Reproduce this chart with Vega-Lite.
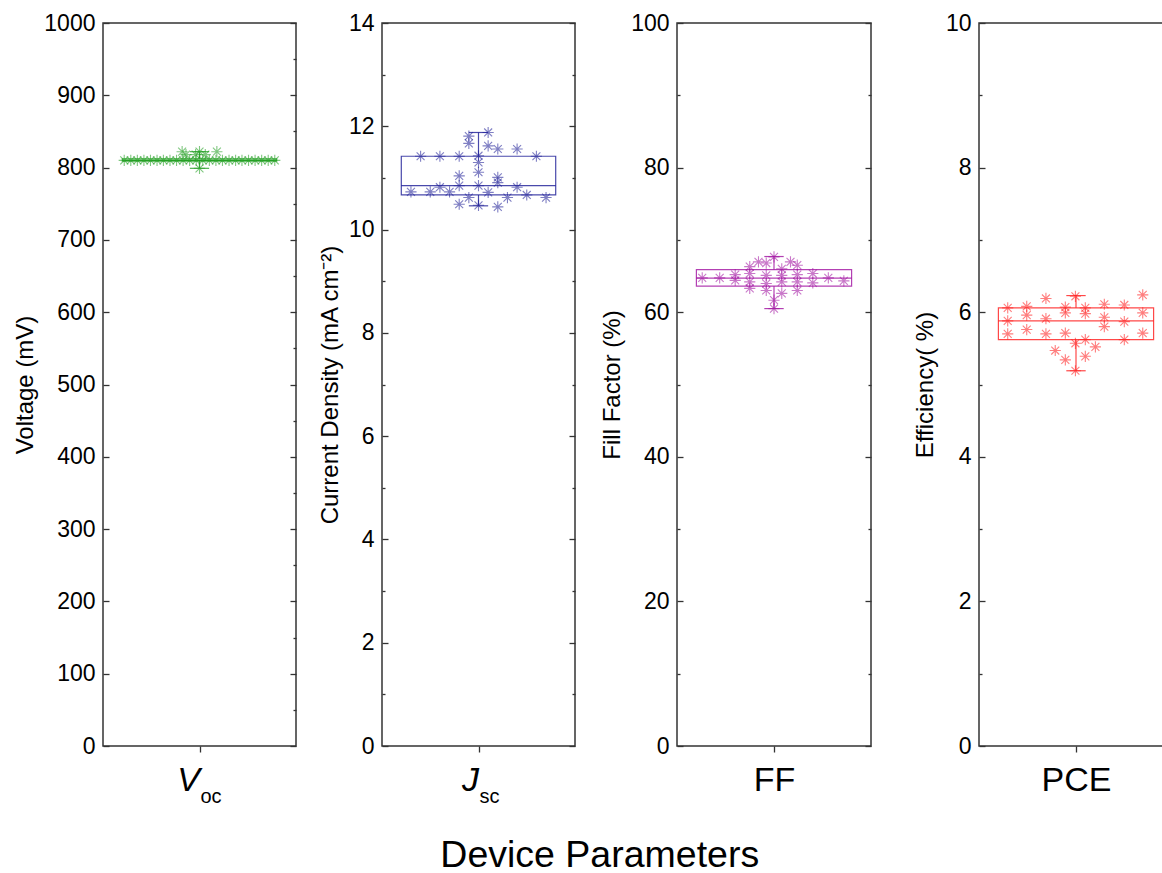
{
  "$schema": "https://vega.github.io/schema/vega-lite/v6.json",
  "padding": {"left": 13, "top": 11, "right": 0, "bottom": 2},
  "spacing": 19,
  "resolve": {"scale": {"x": "independent", "y": "independent"}},
  "title": {"text": "Device Parameters", "orient": "bottom", "anchor": "middle", "fontSize": 37.5, "fontWeight": "normal", "font": "Liberation Sans", "color": "#000", "offset": 30, "dx": 6},
  "hconcat": [
    {
      "width": 193, "height": 723,
      "resolve": {"scale": {"y": "independent"}, "axis": {"y": "independent"}},
      "layer": [
        {
          "data": {"values": [{"q1": 809, "med": 810, "q3": 812, "lo": 799, "hi": 822}]},
          "layer": [
            {"mark": {"type": "rect", "fill": "transparent", "stroke": "#1e9e1e", "strokeWidth": 1.2, "strokeOpacity": 0.8},
             "encoding": {"x": {"datum": 0.1, "type": "quantitative", "scale": {"domain": [0, 1]}}, "x2": {"datum": 0.9},
                          "y": {"field": "q1", "type": "quantitative", "scale": {"domain": [0, 1000]},
                                "axis": {"orient": "left", "values": [0,50,100,150,200,250,300,350,400,450,500,550,600,650,700,750,800,850,900,950,1000], "format": "d",
                                         "labelExpr": "datum.value % 100 === 0 ? datum.label : ''",
                                         "tickSize": {"condition": {"test": "datum.value % 100 === 0", "value": -6}, "value": -3},
                                         "labelFontSize": 23, "labelPadding": 14, "title": "Voltage (mV)", "titleFontSize": 24, "titlePadding": 6}},
                          "y2": {"field": "q3"}}},
            {"mark": {"type": "rule", "stroke": "#1e9e1e", "strokeWidth": 1.2, "strokeOpacity": 0.8},
             "encoding": {"x": {"datum": 0.1, "type": "quantitative"}, "x2": {"datum": 0.9}, "y": {"field": "med", "type": "quantitative"}}},
            {"mark": {"type": "rule", "stroke": "#1e9e1e", "strokeWidth": 1.2, "strokeOpacity": 0.8},
             "encoding": {"x": {"datum": 0.5, "type": "quantitative"}, "y": {"field": "q3", "type": "quantitative"}, "y2": {"field": "hi"}}},
            {"mark": {"type": "rule", "stroke": "#1e9e1e", "strokeWidth": 1.2, "strokeOpacity": 0.8},
             "encoding": {"x": {"datum": 0.5, "type": "quantitative"}, "y": {"field": "lo", "type": "quantitative"}, "y2": {"field": "q1"}}},
            {"mark": {"type": "rule", "stroke": "#1e9e1e", "strokeWidth": 1.2, "strokeOpacity": 0.8},
             "encoding": {"x": {"datum": 0.45, "type": "quantitative"}, "x2": {"datum": 0.55}, "y": {"field": "hi", "type": "quantitative"}}},
            {"mark": {"type": "rule", "stroke": "#1e9e1e", "strokeWidth": 1.2, "strokeOpacity": 0.8},
             "encoding": {"x": {"datum": 0.45, "type": "quantitative"}, "x2": {"datum": 0.55}, "y": {"field": "lo", "type": "quantitative"}}}
          ]
        },
        {
          "data": {"values": [
            {"xd": 0.11, "v": 810}, {"xd": 0.144, "v": 810}, {"xd": 0.178, "v": 810}, {"xd": 0.212, "v": 810}, {"xd": 0.246, "v": 810}, {"xd": 0.28, "v": 810},
            {"xd": 0.313, "v": 810}, {"xd": 0.347, "v": 810}, {"xd": 0.381, "v": 810}, {"xd": 0.415, "v": 810}, {"xd": 0.449, "v": 810}, {"xd": 0.483, "v": 810},
            {"xd": 0.517, "v": 810}, {"xd": 0.551, "v": 810}, {"xd": 0.585, "v": 810}, {"xd": 0.619, "v": 810}, {"xd": 0.653, "v": 810}, {"xd": 0.687, "v": 810},
            {"xd": 0.72, "v": 810}, {"xd": 0.754, "v": 810}, {"xd": 0.788, "v": 810}, {"xd": 0.822, "v": 810}, {"xd": 0.856, "v": 810}, {"xd": 0.89, "v": 810},
            {"xd": 0.43, "v": 818}, {"xd": 0.48, "v": 818}, {"xd": 0.53, "v": 818}, {"xd": 0.41, "v": 822}, {"xd": 0.5, "v": 822}, {"xd": 0.59, "v": 822},
            {"xd": 0.5, "v": 799}
          ]},
          "mark": {"type": "point", "shape": "M-1,0L1,0M0,-1L0,1M-0.71,-0.71L0.71,0.71M-0.71,0.71L0.71,-0.71", "filled": false, "size": 125, "strokeWidth": 1.1, "strokeOpacity": 0.8, "color": "#1e9e1e"},
          "encoding": {
            "x": {"field": "xd", "type": "quantitative", "scale": {"domain": [0, 1]},
                  "axis": {"orient": "bottom", "values": [0.5], "labelExpr": "'V'", "labelFontStyle": "italic", "labelFontSize": 34, "labelAlign": "right", "labelBaseline": "alphabetic", "labelPadding": 38, "tickSize": 6,
                           "title": "oc", "titleFontSize": 20, "titleX": 97, "titleY": 56, "titleAlign": "left", "titleBaseline": "alphabetic"}},
            "y": {"field": "v", "type": "quantitative", "scale": {"domain": [0, 1000]},
                  "axis": {"orient": "right", "values": [0,50,100,150,200,250,300,350,400,450,500,550,600,650,700,750,800,850,900,950,1000], "labels": false, "title": null,
                           "tickSize": {"condition": {"test": "datum.value % 100 === 0", "value": -6}, "value": -3}}}
          }
        }
      ]
    },
    {
      "width": 193, "height": 723,
      "resolve": {"scale": {"y": "independent"}, "axis": {"y": "independent"}},
      "layer": [
        {
          "data": {"values": [{"q1": 10.67, "med": 10.85, "q3": 11.42, "lo": 10.46, "hi": 11.88}]},
          "layer": [
            {"mark": {"type": "rect", "fill": "transparent", "stroke": "#1c1c96", "strokeWidth": 1.2, "strokeOpacity": 0.8},
             "encoding": {"x": {"datum": 0.1, "type": "quantitative", "scale": {"domain": [0, 1]}}, "x2": {"datum": 0.9},
                          "y": {"field": "q1", "type": "quantitative", "scale": {"domain": [0, 14]},
                                "axis": {"orient": "left", "values": [0,1,2,3,4,5,6,7,8,9,10,11,12,13,14], "format": "d",
                                         "labelExpr": "datum.value % 2 === 0 ? datum.label : ''",
                                         "tickSize": {"condition": {"test": "datum.value % 2 === 0", "value": -6}, "value": -3},
                                         "labelFontSize": 23, "labelPadding": 14, "title": "Current Density (mA cm⁻²)", "titleFontSize": 24, "titlePadding": 6}},
                          "y2": {"field": "q3"}}},
            {"mark": {"type": "rule", "stroke": "#1c1c96", "strokeWidth": 1.2, "strokeOpacity": 0.8},
             "encoding": {"x": {"datum": 0.1, "type": "quantitative"}, "x2": {"datum": 0.9}, "y": {"field": "med", "type": "quantitative"}}},
            {"mark": {"type": "rule", "stroke": "#1c1c96", "strokeWidth": 1.2, "strokeOpacity": 0.8},
             "encoding": {"x": {"datum": 0.5, "type": "quantitative"}, "y": {"field": "q3", "type": "quantitative"}, "y2": {"field": "hi"}}},
            {"mark": {"type": "rule", "stroke": "#1c1c96", "strokeWidth": 1.2, "strokeOpacity": 0.8},
             "encoding": {"x": {"datum": 0.5, "type": "quantitative"}, "y": {"field": "lo", "type": "quantitative"}, "y2": {"field": "q1"}}},
            {"mark": {"type": "rule", "stroke": "#1c1c96", "strokeWidth": 1.2, "strokeOpacity": 0.8},
             "encoding": {"x": {"datum": 0.45, "type": "quantitative"}, "x2": {"datum": 0.55}, "y": {"field": "hi", "type": "quantitative"}}},
            {"mark": {"type": "rule", "stroke": "#1c1c96", "strokeWidth": 1.2, "strokeOpacity": 0.8},
             "encoding": {"x": {"datum": 0.45, "type": "quantitative"}, "x2": {"datum": 0.55}, "y": {"field": "lo", "type": "quantitative"}}}
          ]
        },
        {
          "data": {"values": [
            {"xd": 0.45, "v": 11.81}, {"xd": 0.45, "v": 11.67}, {"xd": 0.55, "v": 11.88}, {"xd": 0.55, "v": 11.62}, {"xd": 0.6, "v": 11.56}, {"xd": 0.7, "v": 11.56},
            {"xd": 0.8, "v": 11.42}, {"xd": 0.2, "v": 11.42}, {"xd": 0.3, "v": 11.42}, {"xd": 0.4, "v": 11.42}, {"xd": 0.5, "v": 11.43}, {"xd": 0.5, "v": 11.3},
            {"xd": 0.5, "v": 11.11}, {"xd": 0.4, "v": 11.04}, {"xd": 0.4, "v": 10.85}, {"xd": 0.5, "v": 10.85}, {"xd": 0.6, "v": 11.01}, {"xd": 0.6, "v": 10.91},
            {"xd": 0.7, "v": 10.82}, {"xd": 0.15, "v": 10.73}, {"xd": 0.25, "v": 10.73}, {"xd": 0.3, "v": 10.82}, {"xd": 0.35, "v": 10.73}, {"xd": 0.55, "v": 10.72},
            {"xd": 0.45, "v": 10.62}, {"xd": 0.65, "v": 10.62}, {"xd": 0.75, "v": 10.67}, {"xd": 0.85, "v": 10.62}, {"xd": 0.4, "v": 10.49}, {"xd": 0.5, "v": 10.47},
            {"xd": 0.6, "v": 10.44}
          ]},
          "mark": {"type": "point", "shape": "M-1,0L1,0M0,-1L0,1M-0.71,-0.71L0.71,0.71M-0.71,0.71L0.71,-0.71", "filled": false, "size": 125, "strokeWidth": 1.1, "strokeOpacity": 0.8, "color": "#1c1c96"},
          "encoding": {
            "x": {"field": "xd", "type": "quantitative", "scale": {"domain": [0, 1]},
                  "axis": {"orient": "bottom", "values": [0.5], "labelExpr": "'J'", "labelFontStyle": "italic", "labelFontSize": 34, "labelAlign": "right", "labelBaseline": "alphabetic", "labelPadding": 38, "tickSize": 6,
                           "title": "sc", "titleFontSize": 20, "titleX": 97, "titleY": 56, "titleAlign": "left", "titleBaseline": "alphabetic"}},
            "y": {"field": "v", "type": "quantitative", "scale": {"domain": [0, 14]},
                  "axis": {"orient": "right", "values": [0,1,2,3,4,5,6,7,8,9,10,11,12,13,14], "labels": false, "title": " ", "titleFontSize": 2, "titlePadding": 1,
                           "tickSize": {"condition": {"test": "datum.value % 2 === 0", "value": -6}, "value": -3}}}
          }
        }
      ]
    },
    {
      "width": 194, "height": 723,
      "resolve": {"scale": {"y": "independent"}, "axis": {"y": "independent"}},
      "layer": [
        {
          "data": {"values": [{"q1": 63.6, "med": 64.7, "q3": 65.9, "lo": 60.5, "hi": 67.7}]},
          "layer": [
            {"mark": {"type": "rect", "fill": "transparent", "stroke": "#a010a0", "strokeWidth": 1.2, "strokeOpacity": 0.8},
             "encoding": {"x": {"datum": 0.1, "type": "quantitative", "scale": {"domain": [0, 1]}}, "x2": {"datum": 0.9},
                          "y": {"field": "q1", "type": "quantitative", "scale": {"domain": [0, 100]},
                                "axis": {"orient": "left", "values": [0,10,20,30,40,50,60,70,80,90,100], "format": "d",
                                         "labelExpr": "datum.value % 20 === 0 ? datum.label : ''",
                                         "tickSize": {"condition": {"test": "datum.value % 20 === 0", "value": -6}, "value": -3},
                                         "labelFontSize": 23, "labelPadding": 14, "title": "Fill Factor (%)", "titleFontSize": 24, "titlePadding": 6}},
                          "y2": {"field": "q3"}}},
            {"mark": {"type": "rule", "stroke": "#a010a0", "strokeWidth": 1.2, "strokeOpacity": 0.8},
             "encoding": {"x": {"datum": 0.1, "type": "quantitative"}, "x2": {"datum": 0.9}, "y": {"field": "med", "type": "quantitative"}}},
            {"mark": {"type": "rule", "stroke": "#a010a0", "strokeWidth": 1.2, "strokeOpacity": 0.8},
             "encoding": {"x": {"datum": 0.5, "type": "quantitative"}, "y": {"field": "q3", "type": "quantitative"}, "y2": {"field": "hi"}}},
            {"mark": {"type": "rule", "stroke": "#a010a0", "strokeWidth": 1.2, "strokeOpacity": 0.8},
             "encoding": {"x": {"datum": 0.5, "type": "quantitative"}, "y": {"field": "lo", "type": "quantitative"}, "y2": {"field": "q1"}}},
            {"mark": {"type": "rule", "stroke": "#a010a0", "strokeWidth": 1.2, "strokeOpacity": 0.8},
             "encoding": {"x": {"datum": 0.45, "type": "quantitative"}, "x2": {"datum": 0.55}, "y": {"field": "hi", "type": "quantitative"}}},
            {"mark": {"type": "rule", "stroke": "#a010a0", "strokeWidth": 1.2, "strokeOpacity": 0.8},
             "encoding": {"x": {"datum": 0.45, "type": "quantitative"}, "x2": {"datum": 0.55}, "y": {"field": "lo", "type": "quantitative"}}}
          ]
        },
        {
          "data": {"values": [
            {"xd": 0.13, "v": 64.75}, {"xd": 0.22, "v": 64.75}, {"xd": 0.3, "v": 65.2}, {"xd": 0.3, "v": 64.4}, {"xd": 0.375, "v": 66.3}, {"xd": 0.375, "v": 65.35},
            {"xd": 0.375, "v": 64.2}, {"xd": 0.375, "v": 63.3}, {"xd": 0.42, "v": 66.96}, {"xd": 0.46, "v": 66.8}, {"xd": 0.46, "v": 65.1}, {"xd": 0.46, "v": 63.97},
            {"xd": 0.46, "v": 63.0}, {"xd": 0.5, "v": 67.65}, {"xd": 0.5, "v": 61.66}, {"xd": 0.5, "v": 60.5}, {"xd": 0.54, "v": 66.0}, {"xd": 0.54, "v": 65.1},
            {"xd": 0.54, "v": 64.2}, {"xd": 0.54, "v": 62.6}, {"xd": 0.585, "v": 66.96}, {"xd": 0.62, "v": 66.5}, {"xd": 0.62, "v": 65.2}, {"xd": 0.62, "v": 64.2},
            {"xd": 0.62, "v": 63.0}, {"xd": 0.7, "v": 65.35}, {"xd": 0.7, "v": 64.05}, {"xd": 0.78, "v": 64.75}, {"xd": 0.86, "v": 64.33}
          ]},
          "mark": {"type": "point", "shape": "M-1,0L1,0M0,-1L0,1M-0.71,-0.71L0.71,0.71M-0.71,0.71L0.71,-0.71", "filled": false, "size": 125, "strokeWidth": 1.1, "strokeOpacity": 0.8, "color": "#a010a0"},
          "encoding": {
            "x": {"field": "xd", "type": "quantitative", "scale": {"domain": [0, 1]},
                  "axis": {"orient": "bottom", "values": [0.5], "labelExpr": "'FF'", "labelFontSize": 34, "labelAlign": "center", "labelBaseline": "alphabetic", "labelPadding": 38, "tickSize": 6, "title": null}},
            "y": {"field": "v", "type": "quantitative", "scale": {"domain": [0, 100]},
                  "axis": {"orient": "right", "values": [0,10,20,30,40,50,60,70,80,90,100], "labels": false, "title": " ", "titleFontSize": 2, "titlePadding": 18,
                           "tickSize": {"condition": {"test": "datum.value % 20 === 0", "value": -6}, "value": -3}}}
          }
        }
      ]
    },
    {
      "width": 194, "height": 723,
      "resolve": {"scale": {"y": "independent"}, "axis": {"y": "independent"}},
      "layer": [
        {
          "data": {"values": [{"q1": 5.62, "med": 5.88, "q3": 6.06, "lo": 5.19, "hi": 6.23}]},
          "layer": [
            {"mark": {"type": "rect", "fill": "transparent", "stroke": "#ff1a1a", "strokeWidth": 1.2, "strokeOpacity": 0.8},
             "encoding": {"x": {"datum": 0.1, "type": "quantitative", "scale": {"domain": [0, 1]}}, "x2": {"datum": 0.9},
                          "y": {"field": "q1", "type": "quantitative", "scale": {"domain": [0, 10]},
                                "axis": {"orient": "left", "values": [0,1,2,3,4,5,6,7,8,9,10], "format": "d",
                                         "labelExpr": "datum.value % 2 === 0 ? datum.label : ''",
                                         "tickSize": {"condition": {"test": "datum.value % 2 === 0", "value": -6}, "value": -3},
                                         "labelFontSize": 23, "labelPadding": 14, "title": "Efficiency( %)", "titleFontSize": 24, "titlePadding": 8}},
                          "y2": {"field": "q3"}}},
            {"mark": {"type": "rule", "stroke": "#ff1a1a", "strokeWidth": 1.2, "strokeOpacity": 0.8},
             "encoding": {"x": {"datum": 0.1, "type": "quantitative"}, "x2": {"datum": 0.9}, "y": {"field": "med", "type": "quantitative"}}},
            {"mark": {"type": "rule", "stroke": "#ff1a1a", "strokeWidth": 1.2, "strokeOpacity": 0.8},
             "encoding": {"x": {"datum": 0.5, "type": "quantitative"}, "y": {"field": "q3", "type": "quantitative"}, "y2": {"field": "hi"}}},
            {"mark": {"type": "rule", "stroke": "#ff1a1a", "strokeWidth": 1.2, "strokeOpacity": 0.8},
             "encoding": {"x": {"datum": 0.5, "type": "quantitative"}, "y": {"field": "lo", "type": "quantitative"}, "y2": {"field": "q1"}}},
            {"mark": {"type": "rule", "stroke": "#ff1a1a", "strokeWidth": 1.2, "strokeOpacity": 0.8},
             "encoding": {"x": {"datum": 0.45, "type": "quantitative"}, "x2": {"datum": 0.55}, "y": {"field": "hi", "type": "quantitative"}}},
            {"mark": {"type": "rule", "stroke": "#ff1a1a", "strokeWidth": 1.2, "strokeOpacity": 0.8},
             "encoding": {"x": {"datum": 0.45, "type": "quantitative"}, "x2": {"datum": 0.55}, "y": {"field": "lo", "type": "quantitative"}}}
          ]
        },
        {
          "data": {"values": [
            {"xd": 0.148, "v": 6.06}, {"xd": 0.148, "v": 5.88}, {"xd": 0.148, "v": 5.7}, {"xd": 0.246, "v": 6.08}, {"xd": 0.246, "v": 5.96}, {"xd": 0.246, "v": 5.76},
            {"xd": 0.345, "v": 6.19}, {"xd": 0.345, "v": 5.91}, {"xd": 0.345, "v": 5.7}, {"xd": 0.445, "v": 6.07}, {"xd": 0.445, "v": 5.99}, {"xd": 0.445, "v": 5.71},
            {"xd": 0.497, "v": 6.22}, {"xd": 0.497, "v": 5.57}, {"xd": 0.497, "v": 5.19}, {"xd": 0.548, "v": 6.06}, {"xd": 0.548, "v": 5.98}, {"xd": 0.548, "v": 5.62},
            {"xd": 0.6, "v": 5.52}, {"xd": 0.548, "v": 5.39}, {"xd": 0.445, "v": 5.34}, {"xd": 0.393, "v": 5.47}, {"xd": 0.646, "v": 6.11}, {"xd": 0.646, "v": 5.93},
            {"xd": 0.646, "v": 5.8}, {"xd": 0.749, "v": 6.1}, {"xd": 0.749, "v": 5.87}, {"xd": 0.749, "v": 5.62}, {"xd": 0.844, "v": 6.24}, {"xd": 0.844, "v": 5.99},
            {"xd": 0.844, "v": 5.71}
          ]},
          "mark": {"type": "point", "shape": "M-1,0L1,0M0,-1L0,1M-0.71,-0.71L0.71,0.71M-0.71,0.71L0.71,-0.71", "filled": false, "size": 125, "strokeWidth": 1.1, "strokeOpacity": 0.8, "color": "#ff1a1a"},
          "encoding": {
            "x": {"field": "xd", "type": "quantitative", "scale": {"domain": [0, 1]},
                  "axis": {"orient": "bottom", "values": [0.5], "labelExpr": "'PCE'", "labelFontSize": 34, "labelAlign": "center", "labelBaseline": "alphabetic", "labelPadding": 38, "tickSize": 6, "title": null}},
            "y": {"field": "v", "type": "quantitative", "scale": {"domain": [0, 10]},
                  "axis": {"orient": "right", "values": [0,1,2,3,4,5,6,7,8,9,10], "labels": false, "title": null,
                           "tickSize": {"condition": {"test": "datum.value % 2 === 0", "value": -6}, "value": -3}}}
          }
        }
      ]
    }
  ],
  "config": {
    "font": "Liberation Sans",
    "view": {"stroke": "#333", "strokeWidth": 1.5},
    "axis": {"domain": false, "grid": false, "tickColor": "#333", "tickWidth": 1.3, "labelFont": "Liberation Sans", "titleFont": "Liberation Sans",
             "labelColor": "#000", "titleColor": "#000", "titleFontWeight": "normal", "labelOverlap": false, "labelFlush": false, "labelBound": false}
  }
}
